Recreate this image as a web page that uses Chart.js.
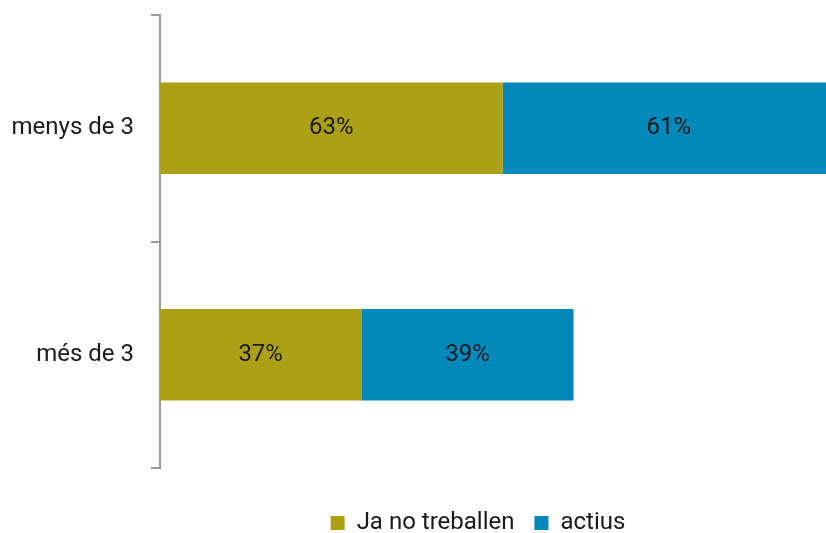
<!DOCTYPE html>
<html>
<head>
<meta charset="utf-8">
<script src="https://cdn.jsdelivr.net/npm/chart.js@4/dist/chart.umd.min.js"></script>
<style>
  html, body { margin: 0; padding: 0; background: #fff; }
  #wrap { width: 826px; height: 533px; }
</style>
</head>
<body>
<div id="wrap"><canvas id="chart" width="826" height="533"></canvas></div>
<script>
const categories = ['menys de 3', 'més de 3'];
const jaNoTreballen = [63, 37];
const actius = [61, 39];
const seriesNames = ['Ja no treballen', 'actius'];

const FONT = 'Roboto, "Noto Sans", sans-serif';

// writes the value in the middle of each bar segment
const segmentLabels = {
    id: 'segmentLabels',
    afterDatasetsDraw(chart) {
        const ctx = chart.ctx;
        ctx.save();
        ctx.font = '24px ' + FONT;
        ctx.fillStyle = '#1a1a1a';
        ctx.textAlign = 'center';
        ctx.textBaseline = 'middle';
        chart.data.datasets.forEach((ds, i) => {
            chart.getDatasetMeta(i).data.forEach((bar, j) => {
                const cx = (bar.base + bar.x) / 2;
                ctx.fillText(ds.data[j] + '%', cx, bar.y);
            });
        });
        ctx.restore();
    }
};

// nudge the legend, like in the original
const legendShift = {
    id: 'legendShift',
    afterLayout(chart) {
        const lg = chart.legend;
        lg.top += 12; lg.bottom += 12;
        lg.left += 65; lg.right += 65;
    }
};

new Chart(document.getElementById('chart').getContext('2d'), {
    type: 'bar',
    data: {
        labels: categories,
        datasets: [
            { label: seriesNames[0], data: jaNoTreballen, backgroundColor: '#ACA017' },
            { label: seriesNames[1], data: actius, backgroundColor: '#0089BA' }
        ]
    },
    options: {
        indexAxis: 'y',
        responsive: false,
        animation: false,
        layout: { padding: { top: 15, right: 0, left: 0, bottom: 0 } },
        datasets: { bar: { categoryPercentage: 1, barPercentage: 0.404 } },
        scales: {
            x: {
                stacked: true,
                min: 0,
                max: 122.4,
                border: { display: false },
                grid: { display: false },
                ticks: { display: false },
                afterFit(scale) { scale.height = 11; }
            },
            y: {
                stacked: true,
                afterFit(scale) {
                    scale.width = 160;
                    scale.paddingTop = 0;
                    scale.paddingBottom = 0;
                },
                border: { color: '#999', width: 2 },
                grid: { offset: true, drawOnChartArea: false, tickLength: 9, color: '#999', lineWidth: 2 },
                ticks: { padding: 17, color: '#1a1a1a', font: { family: FONT, size: 24 } }
            }
        },
        plugins: {
            legend: {
                position: 'bottom',
                labels: {
                    boxWidth: 14, boxHeight: 14, padding: 20,
                    color: '#1a1a1a',
                    font: { family: FONT, size: 24 }
                }
            },
            tooltip: { enabled: false }
        }
    },
    plugins: [segmentLabels, legendShift]
});
</script>
</body>
</html>
